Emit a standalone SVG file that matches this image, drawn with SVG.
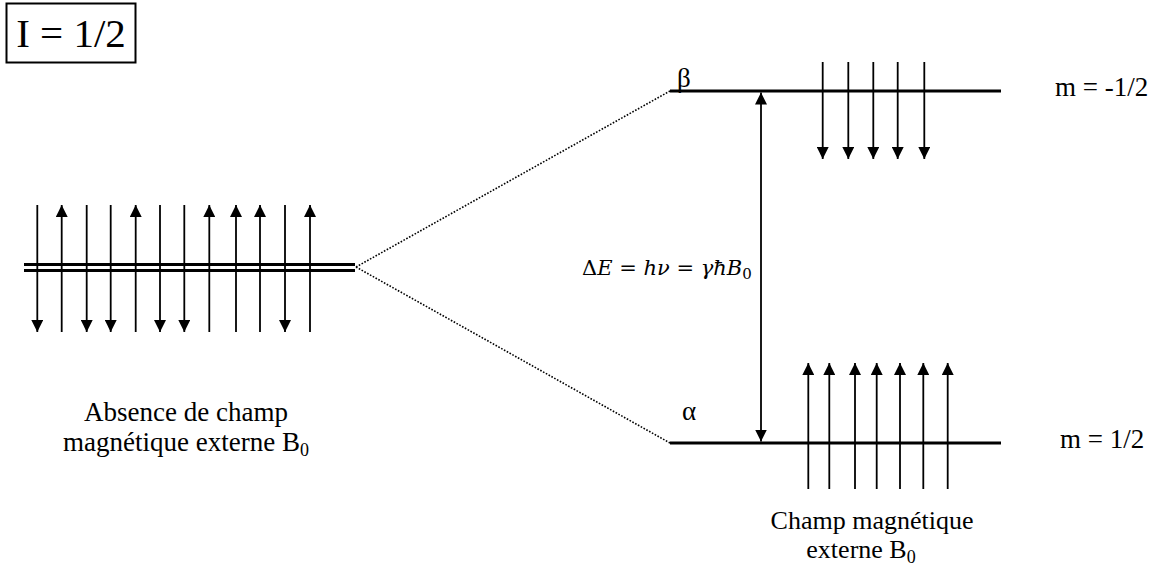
<svg xmlns="http://www.w3.org/2000/svg" width="1160" height="571" viewBox="0 0 1160 571">
<style>
.t{font-family:"Liberation Serif","Times New Roman",serif;font-size:27px;fill:#000}
.s{font-size:18px}
.m{font-family:"DejaVu Serif","Liberation Serif",serif;font-size:21px;fill:#000}
.lvl{stroke:#000;stroke-width:3.2;fill:none}
.ar{stroke:#000;stroke-width:1.8;fill:none}
.dot{stroke:#000;stroke-width:1.6;stroke-dasharray:1.6 1.6;fill:none}
</style>
<defs>
<marker id="ah" viewBox="0 0 12 12" refX="12" refY="6" markerWidth="12" markerHeight="12" markerUnits="userSpaceOnUse" orient="auto">
<path d="M0,0 L12,6 L0,12 Z" fill="#000"/>
</marker>
</defs>
<g id="title">
<rect x="6.5" y="3.5" width="129" height="59" fill="#fff" stroke="#000" stroke-width="2"/>
<text x="71" y="47" class="t" style="font-size:41px" text-anchor="middle">I = 1/2</text>
</g>
<g id="level-zero">
<line class="lvl" x1="24" y1="264.5" x2="355" y2="264.5"/>
<line class="lvl" x1="24" y1="270.5" x2="355" y2="270.5"/>
<g id="spins-zero">
<line class="ar" x1="37.3" y1="205" x2="37.3" y2="332" marker-end="url(#ah)"/>
<line class="ar" x1="61.7" y1="332" x2="61.7" y2="205" marker-end="url(#ah)"/>
<line class="ar" x1="86.7" y1="205" x2="86.7" y2="332" marker-end="url(#ah)"/>
<line class="ar" x1="110.7" y1="205" x2="110.7" y2="332" marker-end="url(#ah)"/>
<line class="ar" x1="135.7" y1="332" x2="135.7" y2="205" marker-end="url(#ah)"/>
<line class="ar" x1="160" y1="205" x2="160" y2="332" marker-end="url(#ah)"/>
<line class="ar" x1="184.3" y1="205" x2="184.3" y2="332" marker-end="url(#ah)"/>
<line class="ar" x1="209.3" y1="332" x2="209.3" y2="205" marker-end="url(#ah)"/>
<line class="ar" x1="236" y1="332" x2="236" y2="205" marker-end="url(#ah)"/>
<line class="ar" x1="260" y1="332" x2="260" y2="205" marker-end="url(#ah)"/>
<line class="ar" x1="285" y1="205" x2="285" y2="332" marker-end="url(#ah)"/>
<line class="ar" x1="310" y1="332" x2="310" y2="205" marker-end="url(#ah)"/>
</g>
<text class="t" x="186" y="421" text-anchor="middle">Absence de champ</text>
<text class="t" x="186" y="451" text-anchor="middle">magnétique externe B<tspan class="s" dy="5">0</tspan></text>
</g>
<g id="level-beta">
<line class="lvl" x1="670" y1="91" x2="1001" y2="91"/>
<text class="t" x="677" y="87">β</text>
<text class="t" x="1055" y="96">m = -1/2</text>
<line class="ar" x1="822.7" y1="62" x2="822.7" y2="159" marker-end="url(#ah)"/>
<line class="ar" x1="848.3" y1="62" x2="848.3" y2="159" marker-end="url(#ah)"/>
<line class="ar" x1="873.3" y1="62" x2="873.3" y2="159" marker-end="url(#ah)"/>
<line class="ar" x1="897.7" y1="62" x2="897.7" y2="159" marker-end="url(#ah)"/>
<line class="ar" x1="924.3" y1="62" x2="924.3" y2="159" marker-end="url(#ah)"/>
</g>
<g id="level-alpha">
<line class="lvl" x1="670" y1="443" x2="1001" y2="443"/>
<text class="t" x="682" y="420">α</text>
<text class="t" x="1060" y="448">m = 1/2</text>
<line class="ar" x1="808.3" y1="489" x2="808.3" y2="363" marker-end="url(#ah)"/>
<line class="ar" x1="829.3" y1="489" x2="829.3" y2="363" marker-end="url(#ah)"/>
<line class="ar" x1="855" y1="489" x2="855" y2="363" marker-end="url(#ah)"/>
<line class="ar" x1="876.7" y1="489" x2="876.7" y2="363" marker-end="url(#ah)"/>
<line class="ar" x1="900" y1="489" x2="900" y2="363" marker-end="url(#ah)"/>
<line class="ar" x1="923.3" y1="489" x2="923.3" y2="363" marker-end="url(#ah)"/>
<line class="ar" x1="947.7" y1="489" x2="947.7" y2="363" marker-end="url(#ah)"/>
<text class="t" x="872" y="529" text-anchor="middle" style="font-size:26px">Champ magnétique</text>
<text class="t" x="861" y="558" text-anchor="middle" style="font-size:26px">externe B<tspan class="s" dy="5">0</tspan></text>
</g>
<g id="connectors">
<line class="dot" x1="356" y1="267" x2="670" y2="91"/>
<line class="dot" x1="356" y1="267" x2="670" y2="443"/>
<line class="ar" x1="761" y1="267" x2="761" y2="92.5" marker-end="url(#ah)"/>
<line class="ar" x1="761" y1="267" x2="761" y2="441.5" marker-end="url(#ah)"/>
</g>
<g id="formula">
<text class="m" x="582" y="275">Δ<tspan font-style="italic">E</tspan> = <tspan font-style="italic">hν</tspan> = <tspan font-style="italic">γħB</tspan><tspan font-size="15" dy="4">0</tspan></text>
</g>
</svg>
